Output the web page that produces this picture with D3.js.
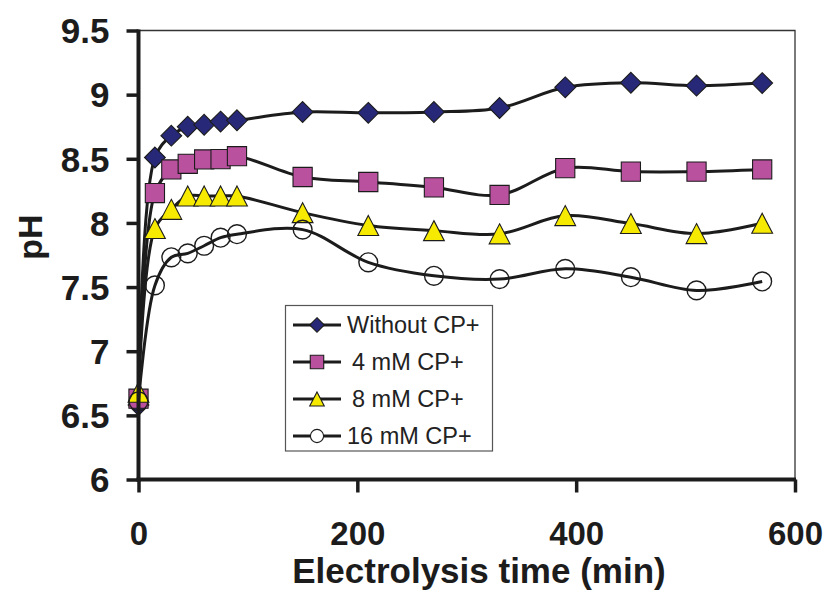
<!DOCTYPE html>
<html>
<head>
<meta charset="utf-8">
<script src="https://cdn.jsdelivr.net/npm/d3@7"></script>
<style>
  html, body { margin: 0; padding: 0; background: #fff; }
  svg { display: block; }
  text { font-family: "Liberation Sans", Arial, Helvetica, sans-serif; }
</style>
</head>
<body>
<svg id="chart" width="829" height="592"></svg>
<script>
// ---- data ----
const times = [0, 15, 30, 45, 60, 75, 90, 150, 210, 270, 330, 390, 450, 510, 570];
const withoutCP = [6.58, 8.51, 8.68, 8.75, 8.765, 8.79, 8.80, 8.865, 8.858, 8.865, 8.896, 9.057, 9.093, 9.07, 9.09];
const cp4mM = [6.63, 8.233, 8.417, 8.461, 8.495, 8.497, 8.52, 8.358, 8.319, 8.277, 8.218, 8.427, 8.40, 8.40, 8.417];
const cp8mM = [6.68, 7.956, 8.106, 8.21, 8.21, 8.21, 8.21, 8.08, 7.98, 7.94, 7.915, 8.057, 7.995, 7.917, 7.997];
const cp16mM = [6.61, 7.513, 7.732, 7.763, 7.822, 7.885, 7.912, 7.948, 7.693, 7.588, 7.562, 7.642, 7.577, 7.474, 7.544];
const seriesNames = ["Without CP+", "4 mM CP+", "8 mM CP+", "16 mM CP+"];
const xTicks = [0, 200, 400, 600];
const yTicks = [6, 6.5, 7, 7.5, 8, 8.5, 9, 9.5];
const xTitle = "Electrolysis time (min)";
const yTitle = "pH";

const seriesValues = [withoutCP, cp4mM, cp8mM, cp16mM];
const markerStyles = [
  { shape: "diamond", fill: "#272877" },
  { shape: "square", fill: "#BA519F" },
  { shape: "triangle", fill: "#F6EA00" },
  { shape: "circle", fill: "none" }
];

// ---- layout ----
const svg = d3.select("#chart");
const pL = 138.5, pR = 795, pT = 30.5, pB = 479.5;
const x = d3.scaleLinear().domain([0, 600]).range([pL, pR]);
const y = d3.scaleLinear().domain([6, 9.5]).range([pB, pT]);

// plot area frame (thin top/right)
svg.append("path")
  .attr("d", `M${pL},${pT}H${pR}V${pB}`)
  .attr("fill", "none").attr("stroke", "#333").attr("stroke-width", 1.3);

// markers
function markerPath(shape, s) {
  const p = d3.path();
  if (shape === "diamond") {
    const r = s * 0.52;
    p.moveTo(0, -r); p.lineTo(r, 0); p.lineTo(0, r); p.lineTo(-r, 0); p.closePath();
  } else if (shape === "square") {
    const h = s * 0.48;
    p.rect(-h, -h, 2 * h, 2 * h);
  } else if (shape === "triangle") {
    const w = s * 0.52, hh = s * 0.5;
    p.moveTo(0, -hh); p.lineTo(w, hh); p.lineTo(-w, hh); p.closePath();
  } else {
    p.moveTo(s * 0.47, 0);
    p.arc(0, 0, s * 0.47, 0, 2 * Math.PI); p.closePath();
  }
  return p.toString();
}

const line = d3.line()
  .x((d, i) => x(times[i]))
  .y(d => y(d))
  .curve(d3.curveCatmullRom.alpha(0.5));

seriesValues.forEach((vals, si) => {
  const g = svg.append("g");
  g.append("path")
    .attr("d", line(vals))
    .attr("fill", "none")
    .attr("stroke", "#1c1c1c")
    .attr("stroke-width", 3);
  const st = markerStyles[si];
  g.selectAll("path.m").data(vals).join("path")
    .attr("class", "m")
    .attr("transform", (d, i) => `translate(${x(times[i])},${y(d)})`)
    .attr("d", markerPath(st.shape, 20))
    .attr("fill", st.fill)
    .attr("stroke", "#1c1c1c")
    .attr("stroke-width", st.shape === "circle" ? 1.4 : 1.1);
});

// axes
const yAxis = d3.axisLeft(y).tickValues(yTicks).tickSize(12).tickPadding(17)
  .tickFormat(d => String(d));
const gy = svg.append("g").attr("transform", `translate(${pL},0)`).call(yAxis);
gy.select(".domain").remove();
gy.selectAll(".tick line").attr("stroke", "#1c1c1c").attr("stroke-width", 3.5);
gy.selectAll(".tick text")
  .attr("font-size", 35).attr("font-weight", "bold").attr("fill", "#1c1c1c")
  .attr("font-family", "'Liberation Sans', Arial, sans-serif").attr("dy", "0.35em");

const xAxis = d3.axisBottom(x).tickValues(xTicks).tickSize(13).tickPadding(29)
  .tickFormat(d => String(d));
const gx = svg.append("g").attr("transform", `translate(0,${pB})`).call(xAxis);
gx.select(".domain").remove();
gx.selectAll(".tick line").attr("stroke", "#1c1c1c").attr("stroke-width", 3.5);
gx.selectAll(".tick text")
  .attr("font-size", 33).attr("font-weight", "bold").attr("fill", "#1c1c1c")
  .attr("font-family", "'Liberation Sans', Arial, sans-serif");

// thick axis lines
svg.append("line").attr("x1", pL).attr("x2", pL).attr("y1", pT - 1).attr("y2", pB + 2)
  .attr("stroke", "#1c1c1c").attr("stroke-width", 4);
svg.append("line").attr("x1", pL - 2).attr("x2", pR + 1).attr("y1", pB).attr("y2", pB)
  .attr("stroke", "#1c1c1c").attr("stroke-width", 4);

// titles
svg.append("text")
  .attr("x", 479).attr("y", 583)
  .attr("text-anchor", "middle")
  .attr("font-size", 35).attr("font-weight", "bold").attr("fill", "#1c1c1c")
  .text(xTitle);
svg.append("text")
  .attr("transform", "translate(42,237) rotate(-90)")
  .attr("text-anchor", "middle")
  .attr("font-size", 34).attr("font-weight", "bold").attr("fill", "#1c1c1c")
  .text(yTitle);

// legend
const lg = svg.append("g");
lg.append("rect").attr("x", 285.5).attr("y", 305.5).attr("width", 207).attr("height", 145.5)
  .attr("fill", "#fff").attr("stroke", "#555").attr("stroke-width", 1.2);
const rowY = [325, 362, 399, 436];
const textX = [347, 352, 352, 347];
seriesNames.forEach((name, i) => {
  lg.append("line").attr("x1", 293).attr("x2", 341).attr("y1", rowY[i]).attr("y2", rowY[i])
    .attr("stroke", "#1c1c1c").attr("stroke-width", 3);
  const st = markerStyles[i];
  lg.append("path")
    .attr("transform", `translate(317,${rowY[i]})`)
    .attr("d", markerPath(st.shape, 14))
    .attr("fill", st.shape === "circle" ? "#fff" : st.fill)
    .attr("stroke", "#1c1c1c").attr("stroke-width", 1.1);
  lg.append("text").attr("x", textX[i]).attr("y", rowY[i]).attr("dy", "0.36em")
    .attr("font-size", 23.5).attr("fill", "#222")
    .text(name);
});
</script>
</body>
</html>
